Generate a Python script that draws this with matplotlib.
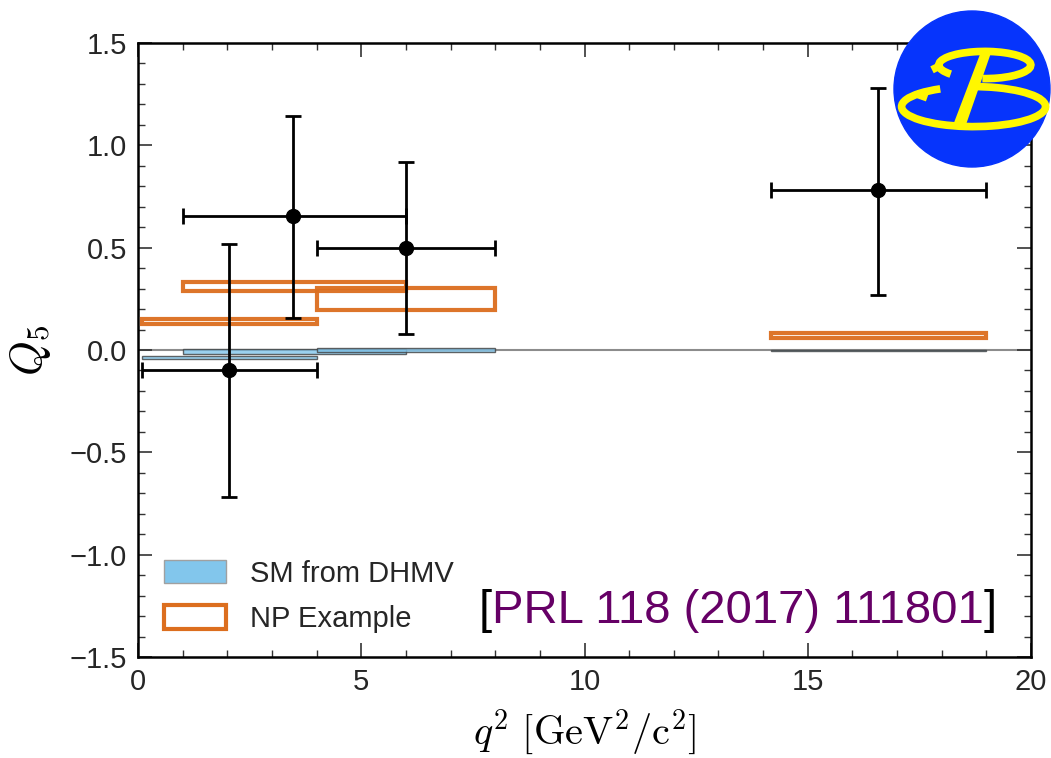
import matplotlib
matplotlib.use("Agg")
import matplotlib.pyplot as plt
from matplotlib.patches import Rectangle, Circle, Patch, Arc, Polygon
from matplotlib.offsetbox import TextArea, HPacker, AnchoredOffsetbox
from matplotlib.ticker import MultipleLocator

plt.rcParams['font.family'] = ['Liberation Sans', 'DejaVu Sans']
plt.rcParams['mathtext.fontset'] = 'cm'

# ---- data ----
bin_lo = [0.1, 1.0, 4.0, 14.18]
bin_hi = [4.0, 6.0, 8.0, 19.0]
meas_x = [2.04, 3.48, 6.0, 16.58]
meas_y = [-0.10, 0.655, 0.50, 0.78]
meas_err_up = [0.62, 0.49, 0.42, 0.50]
meas_err_dn = [0.62, 0.50, 0.42, 0.51]
sm_lo = [-0.045, -0.020, -0.010, -0.005]
sm_hi = [-0.030, 0.005, 0.010, 0.000]
np_lo = [0.125, 0.290, 0.195, 0.060]
np_hi = [0.150, 0.330, 0.305, 0.085]
legend_labels = ['SM from DHMV', 'NP Example']
ref_text = 'PRL 118 (2017) 111801'

text_col = '#262626'
sm_face = '#82c6ec'
np_edge = '#dc6e1e'

fig = plt.figure(figsize=(10.51, 7.58), dpi=100)
ax = fig.add_axes([138/1051, 101/758, 893/1051, 614/758])

ax.axhline(0, color='#8c8c8c', lw=1.5, zorder=1)

for lo, hi, ylo, yhi in zip(bin_lo, bin_hi, sm_lo, sm_hi):
    ax.add_patch(Rectangle((lo, ylo), hi - lo, yhi - ylo, facecolor=sm_face,
                           edgecolor='#404040', lw=1.0, alpha=0.8, zorder=2))
for lo, hi, ylo, yhi in zip(bin_lo, bin_hi, np_lo, np_hi):
    ax.add_patch(Rectangle((lo, ylo), hi - lo, yhi - ylo, facecolor='none',
                           edgecolor=np_edge, lw=3.0, alpha=0.95, zorder=3))

xerr_lo = [x - lo for x, lo in zip(meas_x, bin_lo)]
xerr_hi = [hi - x for x, hi in zip(meas_x, bin_hi)]
ax.errorbar(meas_x, meas_y, xerr=[xerr_lo, xerr_hi], yerr=[meas_err_dn, meas_err_up],
            fmt='o', color='black', ms=10, lw=2, capsize=6, capthick=2, zorder=5)

ax.set_xlim(0, 20)
ax.set_ylim(-1.5, 1.5)
ax.xaxis.set_major_locator(MultipleLocator(5))
ax.xaxis.set_minor_locator(MultipleLocator(1))
ax.yaxis.set_minor_locator(MultipleLocator(0.1))
ax.set_yticks([1.5, 1.0, 0.5, 0.0, -0.5, -1.0, -1.5])
ax.set_yticklabels(['1.5', '1.0', '0.5', '0.0', '\u22120.5', '\u22121.0', '\u22121.5'])
ax.tick_params(which='both', direction='in', top=True, right=True, colors='#333333',
               labelcolor=text_col, labelsize=21)
ax.tick_params(which='major', length=10, width=1.2, pad=8)
ax.tick_params(which='minor', length=5, width=1.0)
for s in ax.spines.values():
    s.set_color('black')
    s.set_linewidth(1.8)

ax.set_xlabel(r'$q^2\ [\mathrm{GeV}^2/\mathrm{c}^2]$', fontsize=29, color='black', labelpad=8)
ax.set_ylabel(r'$Q_5$', fontsize=32, color='black', labelpad=12)

handles = [Patch(facecolor=sm_face, edgecolor='#a0a0a0', lw=1.0),
           Patch(facecolor='white', edgecolor=np_edge, lw=3.0)]
leg = ax.legend(handles, legend_labels, loc='lower left',
                bbox_to_anchor=(0.0, -0.004), frameon=False, fontsize=21,
                handlelength=2.1, handleheight=0.85, labelspacing=0.6, handletextpad=0.85)
for t in leg.get_texts():
    t.set_color(text_col)

ta1 = TextArea('[', textprops=dict(color='black', fontsize=34))
ta2 = TextArea(ref_text, textprops=dict(color='#660066', fontsize=34))
ta3 = TextArea(']', textprops=dict(color='black', fontsize=34))
box = HPacker(children=[ta1, ta2, ta3], align='baseline', pad=0, sep=0)
anch = AnchoredOffsetbox(loc='center', child=box, frameon=False,
                         bbox_to_anchor=(738/1051, 1 - 611/758), bbox_transform=fig.transFigure,
                         borderpad=0, pad=0)
ax.add_artist(anch)

# logo (decoration)
lax = fig.add_axes([(972 - 80)/1051, (758 - 89 - 80)/758, 160/1051, 160/758])
lax.set_xlim(-1, 1)
lax.set_ylim(-1, 1)
lax.set_aspect('equal')
lax.axis('off')
yel = '#fff700'
dy = -0.06
lax.add_patch(Circle((0, 0), 0.975, color='#0634fc'))
lw_logo = 5.5
lax.add_patch(Arc((0.16, 0.36 + dy), 1.15, 0.34, theta1=-100, theta2=195,
                  color=yel, lw=lw_logo, capstyle='butt'))
lax.add_patch(Arc((0.02, -0.16 + dy), 1.80, 0.50, theta1=152, theta2=455,
                  color=yel, lw=lw_logo, capstyle='butt'))
lax.plot([-0.40, -0.50], [0.35 + dy, 0.30 + dy], color=yel, lw=lw_logo, solid_capstyle='butt')
lax.plot([-0.70, -0.56], [0.0 + dy, -0.05 + dy], color=yel, lw=lw_logo, solid_capstyle='butt')
lax.add_patch(Polygon([(0.11, 0.52 + dy), (0.24, 0.52 + dy), (-0.08, -0.40 + dy), (-0.24, -0.40 + dy)],
                      closed=True, color=yel, lw=0))

fig.savefig('out.png', dpi=100)
